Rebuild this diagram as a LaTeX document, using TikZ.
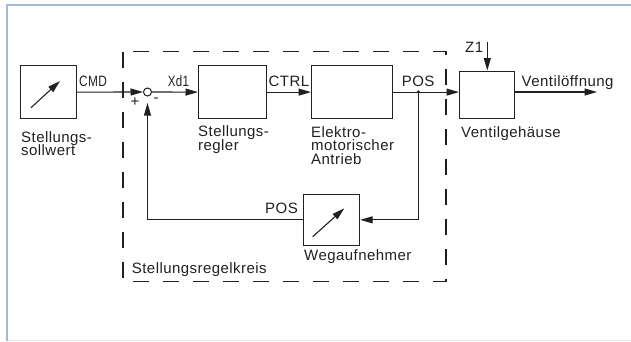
\documentclass[tikz,border=0pt]{standalone}
\usepackage{fontspec}
\usepackage{graphicx}
\setmainfont{Liberation Sans}[LetterSpace=3]
\usetikzlibrary{arrows.meta,calc}
\definecolor{frameblue}{HTML}{A3B9D9}
\definecolor{framegray}{HTML}{E8E8E8}
\definecolor{ink}{HTML}{231F20}
\begin{document}
\begin{tikzpicture}[x=1pt,y=-1pt,
  font=\fontsize{15}{14}\selectfont,
  every node/.style={text=ink},
  blk/.style={draw=ink, line width=1.2pt, inner sep=0pt, anchor=north west},
  sig/.style={draw=ink, line width=1.1pt, -{Triangle[length=12.5pt,width=7pt]}},
  lbl/.style={anchor=base west, inner sep=0pt},
  loopbox/.style={draw=ink, line width=1.1pt, dash pattern=on 16pt off 14pt}]
\useasboundingbox (0,0) rectangle (631,341);
% frame
\draw[framegray, line width=1pt] (7,340.3) -- (631,340.3);
\draw[frameblue, line width=1.6pt] (7,341) -- (7,5) -- (631,5);
% dashed loop
\draw[loopbox] (123,51.5) rectangle (446,281.5);
% blocks
\node[blk, minimum width=56pt, minimum height=53pt] (sw) at (20,65) {};
\node[blk, minimum width=68pt, minimum height=53pt] (reg) at (198,65) {};
\node[blk, minimum width=81pt, minimum height=53pt] (ant) at (311,65) {};
\node[blk, minimum width=55pt, minimum height=47.5pt] (vent) at (459,70.5) {};
\node[blk, minimum width=56pt, minimum height=50.5pt] (weg) at (303,194) {};
\node[draw=ink, line width=1pt, circle, minimum size=8pt, inner sep=0pt] (sum) at (147.5,92) {};
\node[fill=ink, circle, minimum size=3.6pt, inner sep=0pt] (dot) at (418.3,92) {};
% indicator arrows in blocks
\coordinate (swa) at (31,107.7);
\coordinate (swb) at (60,81);
\draw[sig] (swa) -- (swb);
\coordinate (wga) at (312.7,236.7);
\coordinate (wgb) at (344.3,208.3);
\draw[sig] (wga) -- (wgb);
% signal flow
\draw[sig] (sw.east) -- (sum.west);
\draw[sig] (sum.east) -- (reg.west);
\draw[sig] (reg.east) -- (ant.west);
\draw[sig] (ant.east) -- (ant.east -| vent.west);
\coordinate (z1) at (487.3,42);
\draw[sig] (z1) -- (z1 |- vent.north);
\coordinate (vout) at (597,92);
\draw[sig] (vout -| vent.east) -- (vout);
\draw[sig] (dot.center) |- (weg.east);
\draw[sig, shorten >=6.5pt] (weg.west) -| (sum.south);
% labels
\node[lbl] (tcmd) at (79,86) {\scalebox{0.79}[1]{CMD}};
\node[lbl] (txd) at (167.7,86) {\scalebox{0.77}[1]{Xd1}};
\node[lbl] (tctrl) at (268.5,86) {CTRL};
\node[lbl] (tpos) at (401.7,86) {POS};
\node[lbl] (tz) at (465,52.7) {Z1};
\node[lbl] (tvo) at (521.5,86) {Ventilöffnung};
\node[lbl] (tpos2) at (265,213.3) {POS};
\node[lbl] (tsw1) at (21,142) {Stellungs-};
\node[lbl] (tsw2) at (21,155.5) {sollwert};
\node[lbl] (treg1) at (198,136.5) {Stellungs-};
\node[lbl] (treg2) at (198,150) {regler};
\node[lbl] (tant1) at (311,137) {Elektro-};
\node[lbl] (tant2) at (311,150.5) {motorischer};
\node[lbl] (tant3) at (311,164) {Antrieb};
\node[lbl] (tvent) at (461,137) {Ventilgehäuse};
\node[lbl] (tweg) at (304,260.5) {Wegaufnehmer};
\node[lbl] (tloop) at (131.7,273.3) {Stellungsregelkreis};
\node[inner sep=0pt] (tplus) at (135,102) {+};
\node[inner sep=0pt] (tminus) at (156,100.5) {-};
\end{tikzpicture}
\end{document}
